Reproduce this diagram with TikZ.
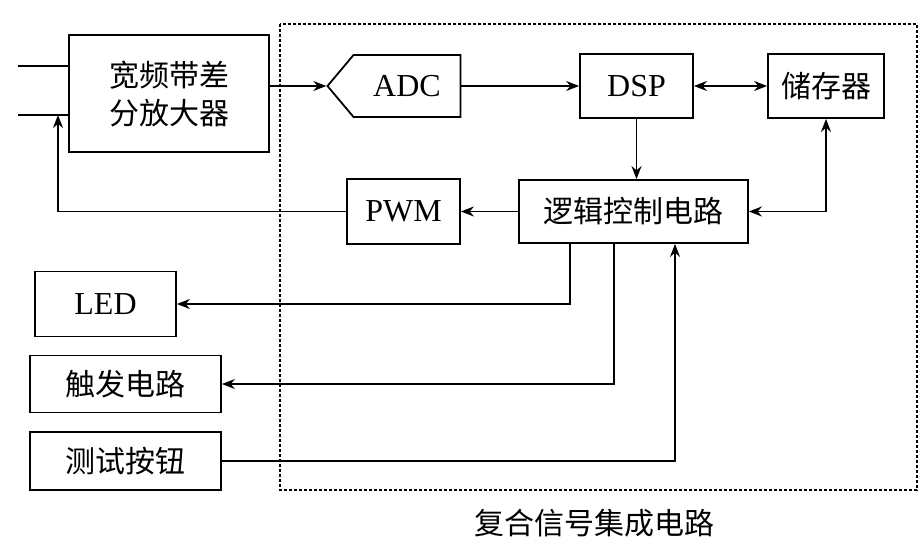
\documentclass[tikz,border=0pt]{standalone}
\usepackage{fontspec}
\setmainfont{Liberation Serif}
\newfontfamily\cjk{Noto Sans CJK SC}
\usetikzlibrary{shapes.symbols,arrows.meta}

\begin{document}
\begin{tikzpicture}[x=0.5pt,y=-0.5pt,>={Stealth[length=6.5pt,width=5pt]},
	blk/.style={draw,line width=0.9pt,inner sep=0pt,font=\fontsize{16}{19}\selectfont},
	cblk/.style={blk,font=\cjk\fontsize{15}{19}\selectfont},
	wire/.style={line width=0.8pt}]
	%frame
	\useasboundingbox (0,0) rectangle (920,545);
	\draw[line width=0.8pt,dash pattern=on 1.5pt off 1pt] (280,24) rectangle (917,490);
	
	%blocks
	\node[cblk,minimum width=100pt,minimum height=58.5pt,align=center] (amp) at (169,93.5) {宽频带差\\分放大器};
	\node[blk,shape=signal,signal to=west,signal pointer angle=100,minimum width=66.5pt,minimum height=31pt] (adc) at (407,86) {ADC};
	\node[blk,minimum width=56.5pt,minimum height=32pt] (dsp) at (636.5,86) {DSP};
	\node[cblk,minimum width=58pt,minimum height=32pt] (mem) at (826,86) {储存器};
	\node[cblk,minimum width=114.5pt,minimum height=31.5pt] (logic) at (633.5,211.5) {逻辑控制电路};
	\node[blk,minimum width=56.5pt,minimum height=32.5pt] (pwm) at (403.5,211.5) {PWM};
	\node[blk,minimum width=70.5pt,minimum height=32.5pt] (led) at (105.5,304) {LED};
	\node[cblk,minimum width=95.5pt,minimum height=28.5pt] (trig) at (125.5,384) {触发电路};
	\node[cblk,minimum width=95.5pt,minimum height=29pt] (test) at (125.5,461) {测试按钮};
	
	%label
	\node[font=\cjk\fontsize{15}{19}\selectfont] (title) at (594,523) {复合信号集成电路};
	
	%inputs
	\coordinate (in1) at (18,66);
	\coordinate (in2) at (18,115);
	\coordinate (fb) at (58,115);
	\draw[wire] (in1) -- (in1-|amp.west);
	\draw[wire] (in2) -- (in2-|amp.west);
	
	%top row
	\draw[wire,->] (adc.west-|amp.east) -- (adc.west);
	\draw[wire,->] (adc.east) -- (dsp.west);
	\draw[wire,<->] (dsp.east) -- (mem.west);
	\draw[wire,->] (dsp.south) -- (dsp.south|-logic.north);
	\draw[wire,<->] (logic.east) -| (mem.south);
	
	%feedback
	\draw[wire,->] (logic.west) -- (pwm.east);
	\draw[wire,->] (pwm.west) -| (fb);
	
	%outputs and button
	\draw[wire,->] ([xshift=-31.75pt]logic.south) |- (led.east);
	\draw[wire,->] ([xshift=-9.75pt]logic.south) |- (trig.east);
	\draw[wire,->] (test.east) -| ([xshift=20.75pt]logic.south);
\end{tikzpicture}
\end{document}
